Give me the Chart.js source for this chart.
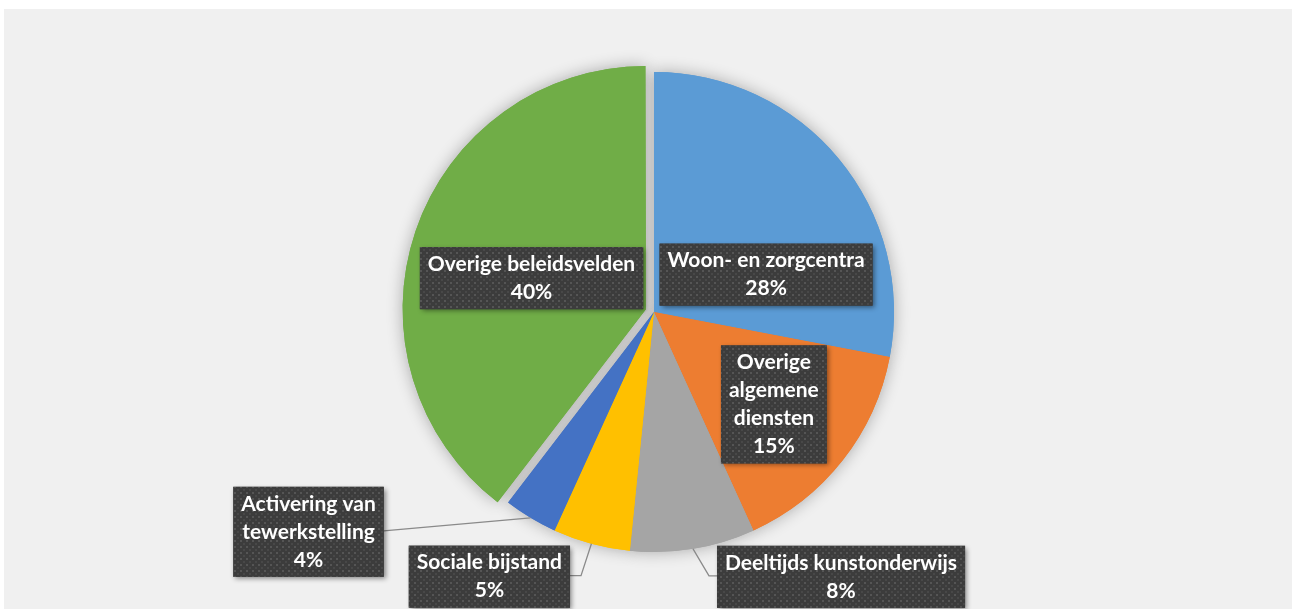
<!DOCTYPE html>
<html>
<head>
<meta charset="utf-8">
<script src="https://cdn.jsdelivr.net/npm/chart.js@4.4.1/dist/chart.umd.min.js"></script>
<style>
    html, body { margin: 0; padding: 0; background: #fff; }
    #wrap { width: 1293px; height: 609px; }
</style>
</head>
<body>
<div id="wrap"><canvas id="pieChart" width="1293" height="609"></canvas></div>
<script>
// Values (shares in %)
const categories = [
    'Woon- en zorgcentra',
    'Overige algemene diensten',
    'Deeltijds kunstonderwijs',
    'Sociale bijstand',
    'Activering van tewerkstelling',
    'Overige beleidsvelden'
];
const shares = [28.0, 15.2, 8.4, 5.2, 3.6, 39.6];
// how the data labels are wrapped in the picture
const labelLines = [
    ['Woon- en zorgcentra'],
    ['Overige', 'algemene', 'diensten'],
    ['Deeltijds kunstonderwijs'],
    ['Sociale bijstand'],
    ['Activering van', 'tewerkstelling'],
    ['Overige beleidsvelden']
];
const sliceColors = ['#5B9BD5', '#ED7D31', '#A5A5A5', '#FFC000', '#4472C4', '#70AD47'];
const explode = [0, 0, 0, 0, 0, 34];

// label placement: k = fraction of radius along slice middle, dx/dy = shift of the box centre
const labelPlace = [
    { k: 0.46, dx: 27, dy: 33 },
    { k: 0.63, dx: 1, dy: -1 },
    { k: 1, dx: 148, dy: 28, leader: true, elbow: 8 },
    { k: 1, dx: -102, dy: 33, leader: true, elbow: 11 },
    { k: 1, dx: -222, dy: 14, leader: true, elbow: 0 },
    { k: 0.53, dx: -2, dy: 7 }
];
const lineH = 28;
const padX = 8;

// grey panel behind the chart
const panelBg = {
    id: 'panelBg',
    beforeDraw(chart) {
        const c = chart.ctx;
        c.save();
        c.fillStyle = '#ffffff';
        c.fillRect(0, 0, chart.width, chart.height);
        c.fillStyle = '#F0F0F0';
        c.fillRect(4, 9, chart.width - 5, chart.height - 9);
        c.restore();
    }
};

// soft shadow round the pie
const pieShadow = {
    id: 'pieShadow',
    beforeDatasetsDraw(chart) {
        const c = chart.ctx;
        const meta = chart.getDatasetMeta(0);
        c.save();
        c.shadowColor = 'rgba(0, 0, 0, 0.3)';
        c.shadowBlur = 16;
        meta.data.forEach(arc => arc.draw(c));
        c.restore();
    }
};

function makeDots() {
    const t = document.createElement('canvas');
    t.width = 6;
    t.height = 6;
    const g = t.getContext('2d');
    g.fillStyle = '#3C3C3C';
    g.fillRect(0, 0, 6, 6);
    g.fillStyle = '#555555';
    g.fillRect(0, 0, 2, 2);
    g.fillStyle = '#484848';
    g.fillRect(3, 3, 2, 2);
    return t;
}

// dark data label boxes with leader lines
const sliceLabels = {
    id: 'sliceLabels',
    afterDatasetsDraw(chart) {
        const c = chart.ctx;
        const meta = chart.getDatasetMeta(0);
        const total = shares.reduce((a, b) => a + b, 0);
        const dots = c.createPattern(makeDots(), 'repeat');
        c.save();
        c.font = 'bold 21px Lato';
        c.textAlign = 'center';
        c.textBaseline = 'middle';
        meta.data.forEach((arc, i) => {
            const p = arc.getProps(['x', 'y', 'startAngle', 'endAngle', 'outerRadius'], true);
            const mid = (p.startAngle + p.endAngle) / 2;
            const place = labelPlace[i];
            const ax = p.x + Math.cos(mid) * p.outerRadius * place.k;
            const ay = p.y + Math.sin(mid) * p.outerRadius * place.k;
            const cx = ax + place.dx;
            const cy = ay + place.dy;
            const lines = labelLines[i].concat([Math.round(shares[i] / total * 100) + '%']);
            const w = Math.max(...lines.map(s => c.measureText(s).width)) + 2 * padX;
            const h = lines.length * lineH + 6;
            const bx = cx - w / 2;
            const by = cy - h / 2;

            if (place.leader) {
                const boxLeft = cx < ax;
                const sx = boxLeft ? bx + w : bx;
                const ly = cy - 1;
                c.beginPath();
                c.moveTo(sx, ly);
                c.lineTo(sx + (boxLeft ? place.elbow : -place.elbow), ly);
                c.lineTo(ax, ay);
                c.strokeStyle = '#8A8A8A';
                c.lineWidth = 1.3;
                c.stroke();
            }

            c.save();
            c.shadowColor = 'rgba(0, 0, 0, 0.45)';
            c.shadowBlur = 5;
            c.shadowOffsetX = 2;
            c.shadowOffsetY = 2;
            c.fillStyle = '#3C3C3C';
            c.fillRect(bx, by, w, h);
            c.restore();
            c.fillStyle = dots;
            c.fillRect(bx, by, w, h);

            c.fillStyle = '#ffffff';
            lines.forEach((s, j) => c.fillText(s, cx, by + 3 + lineH * (j + 0.5)));
        });
        c.restore();
    }
};

const ctx = document.getElementById('pieChart').getContext('2d');
const pieChart = new Chart(ctx, {
    type: 'pie',
    data: {
        labels: categories,
        datasets: [{
            data: shares,
            backgroundColor: sliceColors,
            borderWidth: 0,
            offset: explode,
            hoverOffset: 0
        }]
    },
    options: {
        responsive: false,
        animation: false,
        events: [],
        layout: {
            padding: { top: 55, bottom: 40, left: 397, right: 382 }
        },
        plugins: {
            legend: { display: false },
            tooltip: { enabled: false }
        }
    },
    plugins: [panelBg, pieShadow, sliceLabels]
});
</script>
</body>
</html>
